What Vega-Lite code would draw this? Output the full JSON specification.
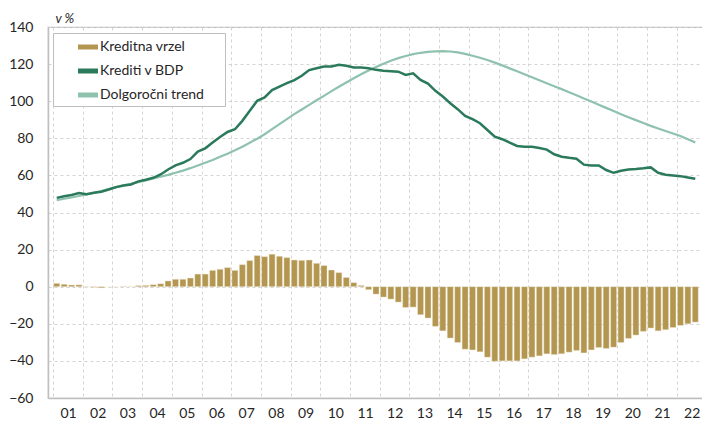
{
  "$schema": "https://vega.github.io/schema/vega-lite/v6.json",
  "width": 656,
  "height": 371,
  "autosize": {"type": "none"},
  "padding": {"left": 48, "top": 27, "right": 0, "bottom": 23},
  "background": "white",
  "config": {
    "font": "Lato",
    "view": {"stroke": "#bfbfbf", "strokeWidth": 1.2},
    "axis": {"labelFont": "Lato", "labelFontSize": 14, "labelColor": "#262626", "gridColor": "#d4d4d4", "gridDash": [3, 3], "gridWidth": 1, "domainColor": "#bfbfbf", "domainWidth": 1.5, "ticks": false, "labelOverlap": false}
  },
  "data": {"values": [
    {"t": 2001.125, "Kreditna vrzel": 1.8, "Krediti v BDP": 47.9, "Dolgoročni trend": 46.7},
    {"t": 2001.375, "Kreditna vrzel": 1.3, "Krediti v BDP": 48.8, "Dolgoročni trend": 47.4},
    {"t": 2001.625, "Kreditna vrzel": 0.9, "Krediti v BDP": 49.4, "Dolgoročni trend": 48.1},
    {"t": 2001.875, "Kreditna vrzel": 1.0, "Krediti v BDP": 50.5, "Dolgoročni trend": 48.9},
    {"t": 2002.125, "Kreditna vrzel": -0.1, "Krediti v BDP": 49.9, "Dolgoročni trend": 49.7},
    {"t": 2002.375, "Kreditna vrzel": -0.3, "Krediti v BDP": 50.6, "Dolgoročni trend": 50.6},
    {"t": 2002.625, "Kreditna vrzel": -0.6, "Krediti v BDP": 51.2, "Dolgoročni trend": 51.6},
    {"t": 2002.875, "Kreditna vrzel": 0.0, "Krediti v BDP": 52.4, "Dolgoročni trend": 52.6},
    {"t": 2003.125, "Kreditna vrzel": 0.0, "Krediti v BDP": 53.7, "Dolgoročni trend": 53.7},
    {"t": 2003.375, "Kreditna vrzel": 0.2, "Krediti v BDP": 54.6, "Dolgoročni trend": 54.6},
    {"t": 2003.625, "Kreditna vrzel": 0.1, "Krediti v BDP": 55.1, "Dolgoročni trend": 55.5},
    {"t": 2003.875, "Kreditna vrzel": 0.6, "Krediti v BDP": 56.8, "Dolgoročni trend": 56.4},
    {"t": 2004.125, "Kreditna vrzel": 0.7, "Krediti v BDP": 57.7, "Dolgoročni trend": 57.3},
    {"t": 2004.375, "Kreditna vrzel": 1.1, "Krediti v BDP": 58.7, "Dolgoročni trend": 58.3},
    {"t": 2004.625, "Kreditna vrzel": 1.6, "Krediti v BDP": 60.5, "Dolgoročni trend": 59.3},
    {"t": 2004.875, "Kreditna vrzel": 3.1, "Krediti v BDP": 63.2, "Dolgoročni trend": 60.3},
    {"t": 2005.125, "Kreditna vrzel": 4.0, "Krediti v BDP": 65.4, "Dolgoročni trend": 61.4},
    {"t": 2005.375, "Kreditna vrzel": 4.0, "Krediti v BDP": 66.8, "Dolgoročni trend": 62.6},
    {"t": 2005.625, "Kreditna vrzel": 4.7, "Krediti v BDP": 68.8, "Dolgoročni trend": 63.9},
    {"t": 2005.875, "Kreditna vrzel": 6.8, "Krediti v BDP": 72.8, "Dolgoročni trend": 65.3},
    {"t": 2006.125, "Kreditna vrzel": 6.8, "Krediti v BDP": 74.6, "Dolgoročni trend": 66.8},
    {"t": 2006.375, "Kreditna vrzel": 8.8, "Krediti v BDP": 77.7, "Dolgoročni trend": 68.3},
    {"t": 2006.625, "Kreditna vrzel": 9.4, "Krediti v BDP": 80.7, "Dolgoročni trend": 70.0},
    {"t": 2006.875, "Kreditna vrzel": 10.3, "Krediti v BDP": 83.4, "Dolgoročni trend": 71.7},
    {"t": 2007.125, "Kreditna vrzel": 8.8, "Krediti v BDP": 84.9, "Dolgoročni trend": 73.5},
    {"t": 2007.375, "Kreditna vrzel": 11.9, "Krediti v BDP": 89.4, "Dolgoročni trend": 75.5},
    {"t": 2007.625, "Kreditna vrzel": 14.1, "Krediti v BDP": 94.8, "Dolgoročni trend": 77.6},
    {"t": 2007.875, "Kreditna vrzel": 16.8, "Krediti v BDP": 100.2, "Dolgoročni trend": 79.8},
    {"t": 2008.125, "Kreditna vrzel": 16.2, "Krediti v BDP": 102.0, "Dolgoročni trend": 82.2},
    {"t": 2008.375, "Kreditna vrzel": 17.5, "Krediti v BDP": 106.0, "Dolgoročni trend": 84.9},
    {"t": 2008.625, "Kreditna vrzel": 16.4, "Krediti v BDP": 107.9, "Dolgoročni trend": 87.6},
    {"t": 2008.875, "Kreditna vrzel": 15.7, "Krediti v BDP": 109.7, "Dolgoročni trend": 90.3},
    {"t": 2009.125, "Kreditna vrzel": 14.4, "Krediti v BDP": 111.4, "Dolgoročni trend": 93.0},
    {"t": 2009.375, "Kreditna vrzel": 14.2, "Krediti v BDP": 113.7, "Dolgoročni trend": 95.5},
    {"t": 2009.625, "Kreditna vrzel": 14.4, "Krediti v BDP": 116.8, "Dolgoročni trend": 98.0},
    {"t": 2009.875, "Kreditna vrzel": 12.6, "Krediti v BDP": 117.8, "Dolgoročni trend": 100.5},
    {"t": 2010.125, "Kreditna vrzel": 11.4, "Krediti v BDP": 118.7, "Dolgoročni trend": 102.9},
    {"t": 2010.375, "Kreditna vrzel": 9.0, "Krediti v BDP": 118.7, "Dolgoročni trend": 105.4},
    {"t": 2010.625, "Kreditna vrzel": 7.6, "Krediti v BDP": 119.6, "Dolgoročni trend": 107.8},
    {"t": 2010.875, "Kreditna vrzel": 5.0, "Krediti v BDP": 119.1, "Dolgoročni trend": 110.1},
    {"t": 2011.125, "Kreditna vrzel": 2.2, "Krediti v BDP": 118.2, "Dolgoročni trend": 112.4},
    {"t": 2011.375, "Kreditna vrzel": 0.7, "Krediti v BDP": 118.2, "Dolgoročni trend": 114.5},
    {"t": 2011.625, "Kreditna vrzel": -1.6, "Krediti v BDP": 117.8, "Dolgoročni trend": 116.5},
    {"t": 2011.875, "Kreditna vrzel": -4.0, "Krediti v BDP": 116.9, "Dolgoročni trend": 118.4},
    {"t": 2012.125, "Kreditna vrzel": -5.6, "Krediti v BDP": 116.4, "Dolgoročni trend": 120.2},
    {"t": 2012.375, "Kreditna vrzel": -6.7, "Krediti v BDP": 116.2, "Dolgoročni trend": 121.8},
    {"t": 2012.625, "Kreditna vrzel": -8.3, "Krediti v BDP": 115.9, "Dolgoročni trend": 123.2},
    {"t": 2012.875, "Kreditna vrzel": -11.2, "Krediti v BDP": 114.2, "Dolgoročni trend": 124.4},
    {"t": 2013.125, "Kreditna vrzel": -11.0, "Krediti v BDP": 115.0, "Dolgoročni trend": 125.4},
    {"t": 2013.375, "Kreditna vrzel": -15.1, "Krediti v BDP": 111.5, "Dolgoročni trend": 126.1},
    {"t": 2013.625, "Kreditna vrzel": -16.9, "Krediti v BDP": 109.5, "Dolgoročni trend": 126.6},
    {"t": 2013.875, "Kreditna vrzel": -21.4, "Krediti v BDP": 105.6, "Dolgoročni trend": 126.9},
    {"t": 2014.125, "Kreditna vrzel": -23.8, "Krediti v BDP": 102.5, "Dolgoročni trend": 127.0},
    {"t": 2014.375, "Kreditna vrzel": -27.7, "Krediti v BDP": 98.9, "Dolgoročni trend": 126.8},
    {"t": 2014.625, "Kreditna vrzel": -30.1, "Krediti v BDP": 95.7, "Dolgoročni trend": 126.3},
    {"t": 2014.875, "Kreditna vrzel": -33.7, "Krediti v BDP": 92.1, "Dolgoročni trend": 125.5},
    {"t": 2015.125, "Kreditna vrzel": -34.1, "Krediti v BDP": 90.3, "Dolgoročni trend": 124.5},
    {"t": 2015.375, "Kreditna vrzel": -35.1, "Krediti v BDP": 88.1, "Dolgoročni trend": 123.4},
    {"t": 2015.625, "Kreditna vrzel": -38.0, "Krediti v BDP": 84.5, "Dolgoročni trend": 122.2},
    {"t": 2015.875, "Kreditna vrzel": -40.2, "Krediti v BDP": 80.9, "Dolgoročni trend": 120.8},
    {"t": 2016.125, "Kreditna vrzel": -40.0, "Krediti v BDP": 79.5, "Dolgoročni trend": 119.3},
    {"t": 2016.375, "Kreditna vrzel": -40.0, "Krediti v BDP": 77.7, "Dolgoročni trend": 117.7},
    {"t": 2016.625, "Kreditna vrzel": -40.0, "Krediti v BDP": 75.9, "Dolgoročni trend": 116.1},
    {"t": 2016.875, "Kreditna vrzel": -38.9, "Krediti v BDP": 75.5, "Dolgoročni trend": 114.5},
    {"t": 2017.125, "Kreditna vrzel": -38.0, "Krediti v BDP": 75.5, "Dolgoročni trend": 112.9},
    {"t": 2017.375, "Kreditna vrzel": -37.3, "Krediti v BDP": 74.8, "Dolgoročni trend": 111.3},
    {"t": 2017.625, "Kreditna vrzel": -36.2, "Krediti v BDP": 73.9, "Dolgoročni trend": 109.7},
    {"t": 2017.875, "Kreditna vrzel": -36.6, "Krediti v BDP": 71.4, "Dolgoročni trend": 108.1},
    {"t": 2018.125, "Kreditna vrzel": -36.2, "Krediti v BDP": 70.1, "Dolgoročni trend": 106.5},
    {"t": 2018.375, "Kreditna vrzel": -35.3, "Krediti v BDP": 69.5, "Dolgoročni trend": 104.8},
    {"t": 2018.625, "Kreditna vrzel": -34.4, "Krediti v BDP": 69.0, "Dolgoročni trend": 103.2},
    {"t": 2018.875, "Kreditna vrzel": -35.7, "Krediti v BDP": 65.8, "Dolgoročni trend": 101.5},
    {"t": 2019.125, "Kreditna vrzel": -34.1, "Krediti v BDP": 65.4, "Dolgoročni trend": 99.8},
    {"t": 2019.375, "Kreditna vrzel": -32.8, "Krediti v BDP": 65.4, "Dolgoročni trend": 98.1},
    {"t": 2019.625, "Kreditna vrzel": -33.3, "Krediti v BDP": 62.9, "Dolgoročni trend": 96.4},
    {"t": 2019.875, "Kreditna vrzel": -32.6, "Krediti v BDP": 61.4, "Dolgoročni trend": 94.7},
    {"t": 2020.125, "Kreditna vrzel": -30.1, "Krediti v BDP": 62.5, "Dolgoročni trend": 93.0},
    {"t": 2020.375, "Kreditna vrzel": -27.9, "Krediti v BDP": 63.2, "Dolgoročni trend": 91.4},
    {"t": 2020.625, "Kreditna vrzel": -26.1, "Krediti v BDP": 63.4, "Dolgoročni trend": 89.8},
    {"t": 2020.875, "Kreditna vrzel": -24.1, "Krediti v BDP": 63.8, "Dolgoročni trend": 88.2},
    {"t": 2021.125, "Kreditna vrzel": -22.3, "Krediti v BDP": 64.3, "Dolgoročni trend": 86.7},
    {"t": 2021.375, "Kreditna vrzel": -23.8, "Krediti v BDP": 61.4, "Dolgoročni trend": 85.3},
    {"t": 2021.625, "Kreditna vrzel": -23.2, "Krediti v BDP": 60.4, "Dolgoročni trend": 83.9},
    {"t": 2021.875, "Kreditna vrzel": -22.0, "Krediti v BDP": 60.0, "Dolgoročni trend": 82.6},
    {"t": 2022.125, "Kreditna vrzel": -20.9, "Krediti v BDP": 59.6, "Dolgoročni trend": 81.2},
    {"t": 2022.375, "Kreditna vrzel": -20.0, "Krediti v BDP": 58.9, "Dolgoročni trend": 79.5},
    {"t": 2022.625, "Kreditna vrzel": -19.1, "Krediti v BDP": 58.2, "Dolgoročni trend": 77.7}
  ]},
  "encoding": {
    "x": {
      "field": "t", "type": "quantitative",
      "scale": {"domain": [2001, 2022.75], "nice": false, "zero": false},
      "axis": {
        "title": null,
        "values": [2001, 2002, 2003, 2004, 2005, 2006, 2007, 2008, 2009, 2010, 2011, 2012, 2013, 2014, 2015, 2016, 2017, 2018, 2019, 2020, 2021, 2022],
        "tickCount": 40,
        "labelExpr": "slice('0' + (datum.value % 100), -2)",
        "labelOffset": 15, "labelPadding": 8, "labelOverlap": false, "labelFlush": false, "labelBound": false,
        "grid": true
      }
    }
  },
  "layer": [
    {
      "mark": {"type": "bar", "size": 6, "stroke": "#f4eedf", "strokeWidth": 0.4},
      "encoding": {
        "y": {
          "field": "Kreditna vrzel", "type": "quantitative",
          "scale": {"domain": [-60, 140], "nice": false},
          "axis": {
            "title": "v %", "titleAngle": 0, "titleAlign": "left", "titleBaseline": "middle",
            "titleX": 7, "titleY": -9, "titleFontStyle": "italic", "titleFontWeight": "normal", "titleFontSize": 13, "titleFont": "Lato", "titleColor": "#262626",
            "values": [-60, -40, -20, 0, 20, 40, 60, 80, 100, 120, 140],
            "tickCount": 30,
            "labelPadding": 15, "labelOverlap": false, "grid": true
          }
        },
        "color": {
          "datum": "Kreditna vrzel",
          "scale": {"domain": ["Kreditna vrzel", "Krediti v BDP", "Dolgoročni trend"], "range": ["#b39650", "#2b7a5c", "#8fc2ae"]},
          "legend": {
            "title": "\u00a0", "titleOrient": "right", "titlePadding": 17, "titleFontSize": 8,
            "orient": "none", "legendX": 5, "legendY": 6,
            "padding": 4, "fillColor": "white", "strokeColor": "#bfbfbf",
            "symbolType": "M-1,-0.25H1V0.25H-1Z",
            "symbolSize": 400, "symbolOffset": 21, "labelOffset": 2, "rowPadding": 7,
            "symbolStrokeWidth": 0,
            "labelFont": "Lato", "labelFontSize": 14, "labelColor": "#262626", "labelLimit": 300
          }
        }
      }
    },
    {
      "mark": {"type": "rule", "color": "#bfbfbf", "strokeWidth": 1.2},
      "encoding": {"y": {"datum": 0, "type": "quantitative"}}
    },
    {
      "mark": {"type": "line", "strokeWidth": 2.2},
      "encoding": {
        "y": {"field": "Dolgoročni trend", "type": "quantitative"},
        "color": {"datum": "Dolgoročni trend"}
      }
    },
    {
      "mark": {"type": "line", "strokeWidth": 2.5},
      "encoding": {
        "y": {"field": "Krediti v BDP", "type": "quantitative"},
        "color": {"datum": "Krediti v BDP"}
      }
    }
  ]
}
